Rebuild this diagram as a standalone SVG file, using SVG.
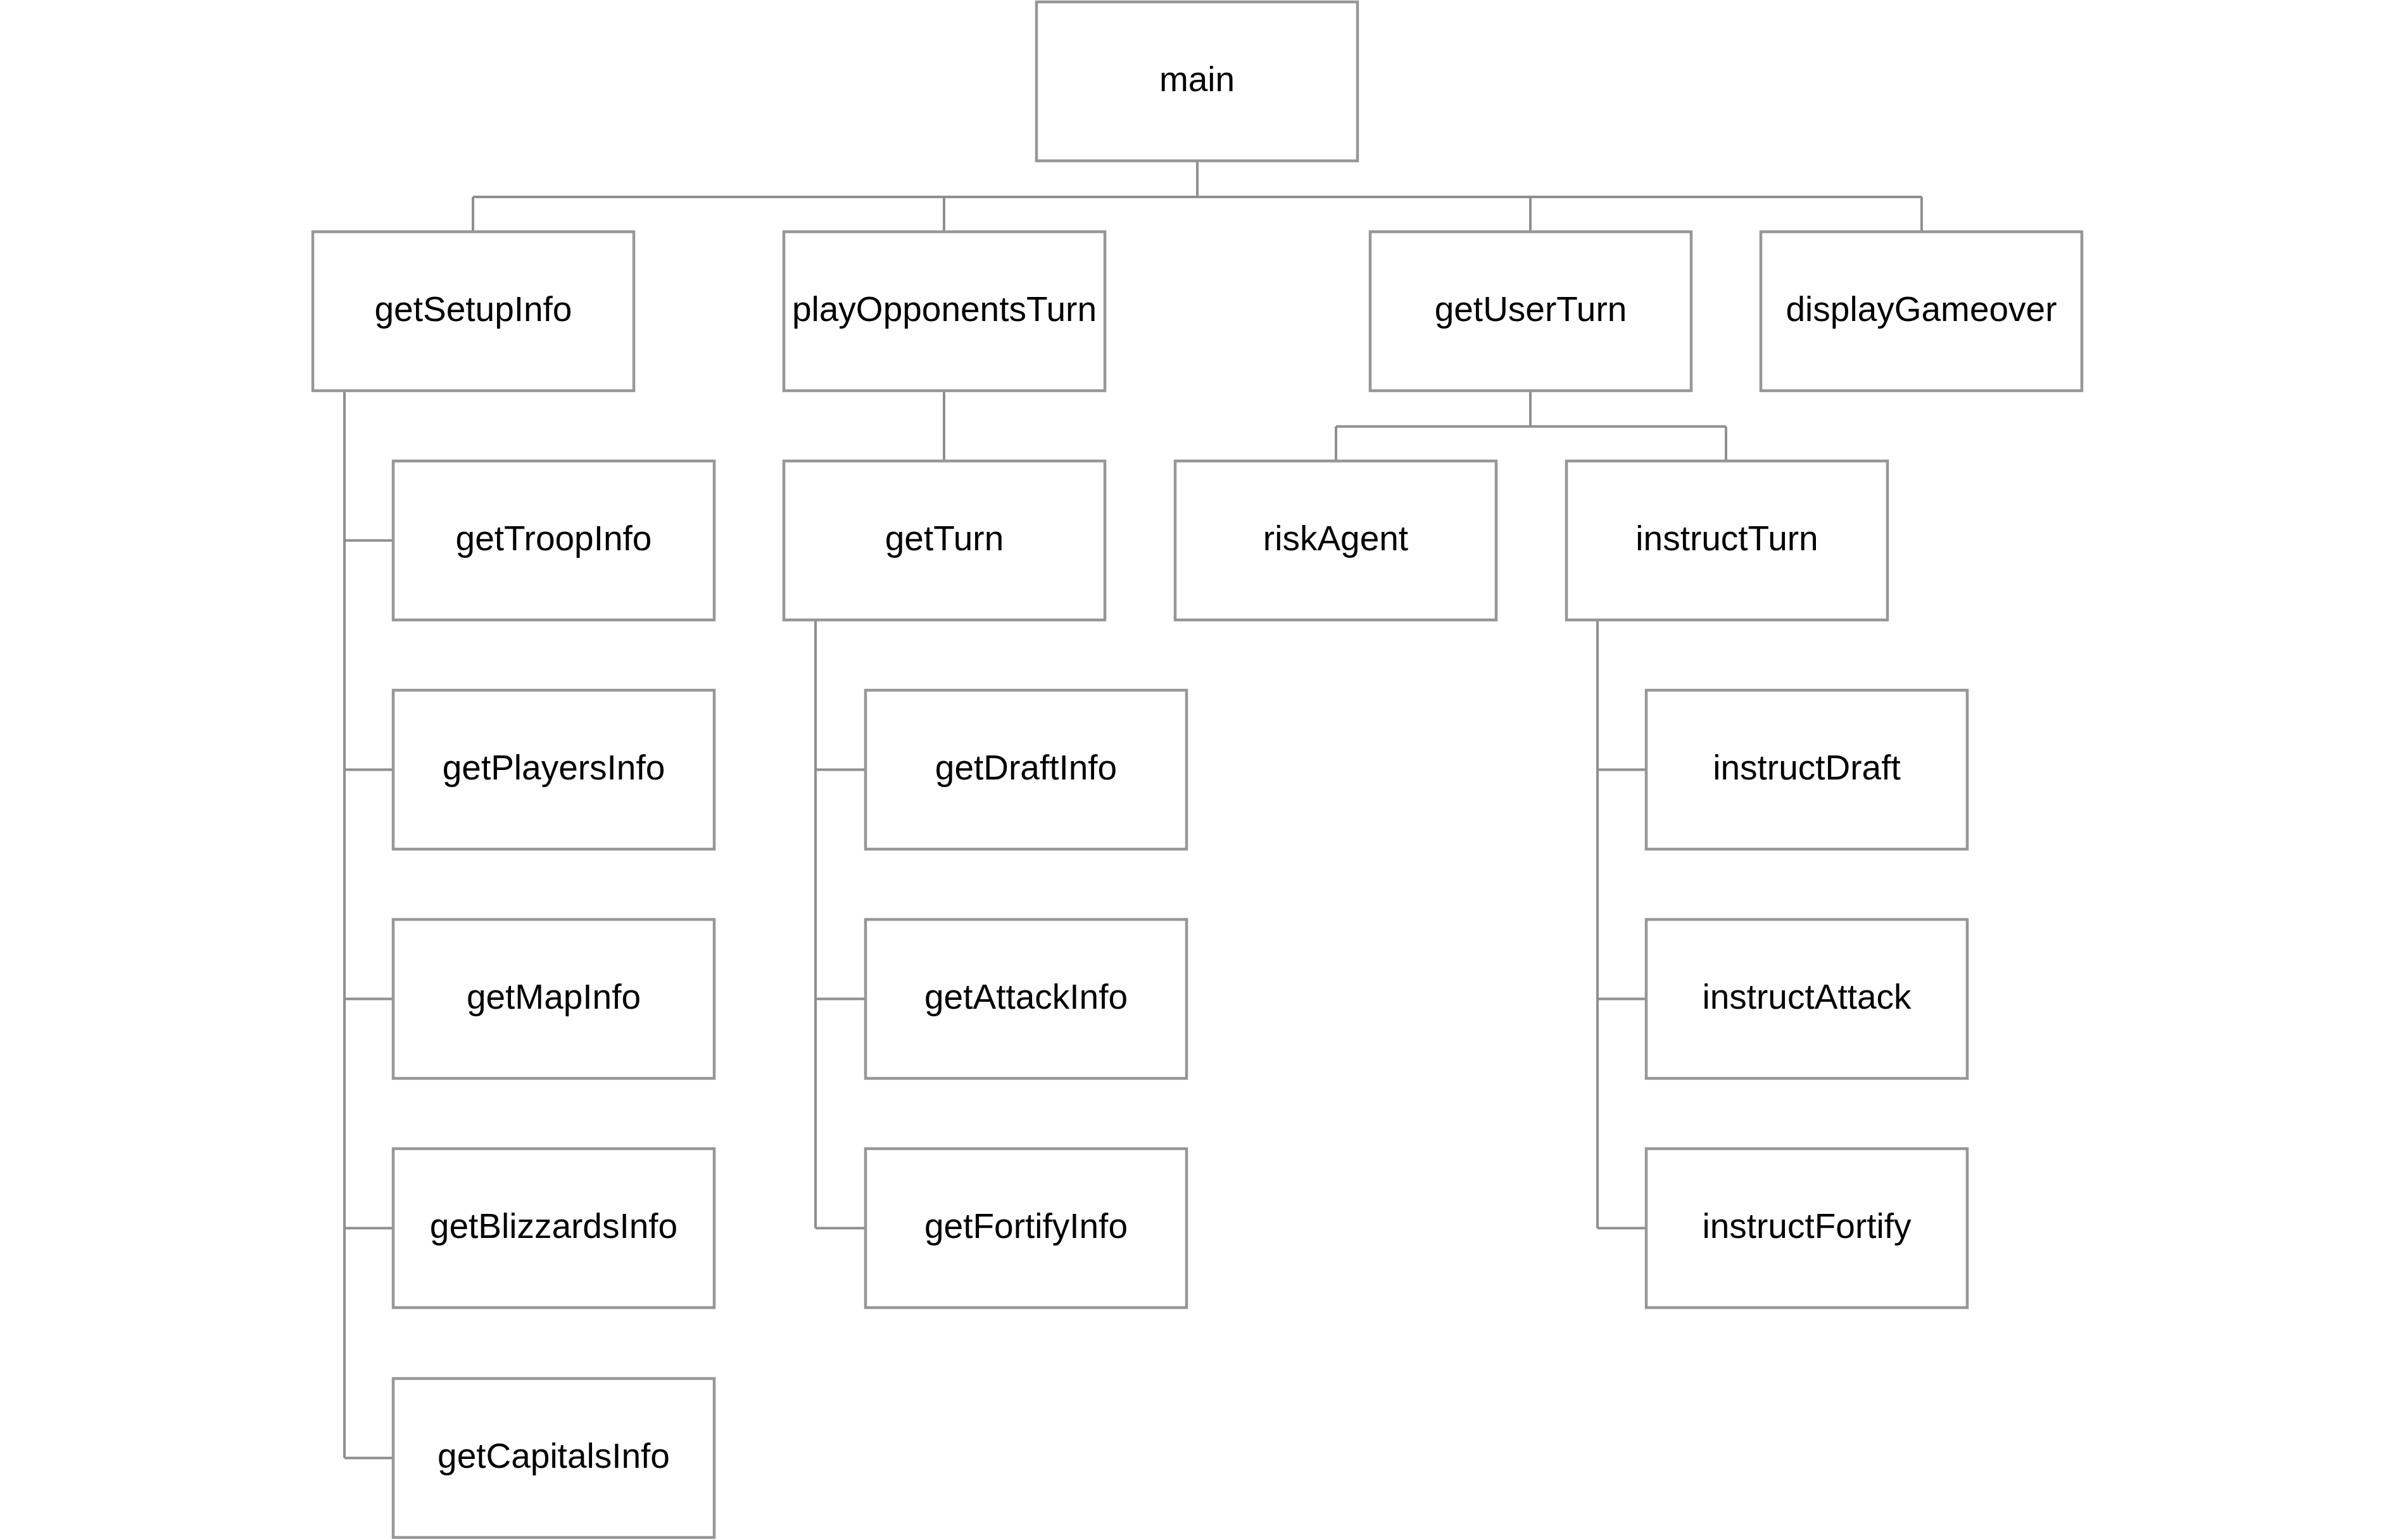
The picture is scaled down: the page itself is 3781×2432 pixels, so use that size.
<svg xmlns="http://www.w3.org/2000/svg" width="3781" height="2432" viewBox="0 0 3781 2432">
<style>
.box{fill:#ffffff;stroke:#979797;stroke-width:4.5}
.lbl{font-family:"Liberation Sans",Arial,sans-serif;font-size:55px;fill:#000000;text-anchor:middle}
.con{fill:none;stroke:#8f8f8f;stroke-width:4}
</style>
<rect x="0" y="0" width="3781" height="2432" fill="#ffffff"/>
<g id="connectors" class="con">
<path d="M1891,256 V311"/>
<path d="M747,311 H3035"/>
<path d="M747,311 V364 M1491,311 V364 M2417,311 V364 M3035,311 V364"/>
<path d="M544,619 V2302.5 M544,853.5 H619 M544,1215.5 H619 M544,1577.5 H619 M544,1939.5 H619 M544,2302.5 H619"/>
<path d="M1491,619 V726"/>
<path d="M1288,981 V1939.5 M1288,1215.5 H1365 M1288,1577.5 H1365 M1288,1939.5 H1365"/>
<path d="M2417,619 V673.5 M2110,673.5 H2726 M2110,673.5 V726 M2726,673.5 V726"/>
<path d="M2523,981 V1939.5 M2523,1215.5 H2598 M2523,1577.5 H2598 M2523,1939.5 H2598"/>
</g>
<g id="main"><rect class="box" x="1637" y="3" width="507" height="251"/><text class="lbl" x="1890.5" y="144">main</text></g>
<g id="getSetupInfo"><rect class="box" x="494" y="366" width="507" height="251"/><text class="lbl" x="747.5" y="506.5">getSetupInfo</text></g>
<g id="playOpponentsTurn"><rect class="box" x="1238" y="366" width="507" height="251"/><text class="lbl" x="1491.5" y="506.5">playOpponentsTurn</text></g>
<g id="getUserTurn"><rect class="box" x="2164" y="366" width="507" height="251"/><text class="lbl" x="2417.5" y="506.5">getUserTurn</text></g>
<g id="displayGameover"><rect class="box" x="2781" y="366" width="507" height="251"/><text class="lbl" x="3034.5" y="506.5">displayGameover</text></g>
<g id="getTroopInfo"><rect class="box" x="621" y="728" width="507" height="251"/><text class="lbl" x="874.5" y="868.5">getTroopInfo</text></g>
<g id="getTurn"><rect class="box" x="1238" y="728" width="507" height="251"/><text class="lbl" x="1491.5" y="868.5">getTurn</text></g>
<g id="riskAgent"><rect class="box" x="1856" y="728" width="507" height="251"/><text class="lbl" x="2109.5" y="868.5">riskAgent</text></g>
<g id="instructTurn"><rect class="box" x="2474" y="728" width="507" height="251"/><text class="lbl" x="2727.5" y="868.5">instructTurn</text></g>
<g id="getPlayersInfo"><rect class="box" x="621" y="1090" width="507" height="251"/><text class="lbl" x="874.5" y="1230.5">getPlayersInfo</text></g>
<g id="getMapInfo"><rect class="box" x="621" y="1452" width="507" height="251"/><text class="lbl" x="874.5" y="1592.5">getMapInfo</text></g>
<g id="getBlizzardsInfo"><rect class="box" x="621" y="1814" width="507" height="251"/><text class="lbl" x="874.5" y="1954.5">getBlizzardsInfo</text></g>
<g id="getCapitalsInfo"><rect class="box" x="621" y="2177" width="507" height="251"/><text class="lbl" x="874.5" y="2317.5">getCapitalsInfo</text></g>
<g id="getDraftInfo"><rect class="box" x="1367" y="1090" width="507" height="251"/><text class="lbl" x="1620.5" y="1230.5">getDraftInfo</text></g>
<g id="getAttackInfo"><rect class="box" x="1367" y="1452" width="507" height="251"/><text class="lbl" x="1620.5" y="1592.5">getAttackInfo</text></g>
<g id="getFortifyInfo"><rect class="box" x="1367" y="1814" width="507" height="251"/><text class="lbl" x="1620.5" y="1954.5">getFortifyInfo</text></g>
<g id="instructDraft"><rect class="box" x="2600" y="1090" width="507" height="251"/><text class="lbl" x="2853.5" y="1230.5">instructDraft</text></g>
<g id="instructAttack"><rect class="box" x="2600" y="1452" width="507" height="251"/><text class="lbl" x="2853.5" y="1592.5">instructAttack</text></g>
<g id="instructFortify"><rect class="box" x="2600" y="1814" width="507" height="251"/><text class="lbl" x="2853.5" y="1954.5">instructFortify</text></g>
</svg>
